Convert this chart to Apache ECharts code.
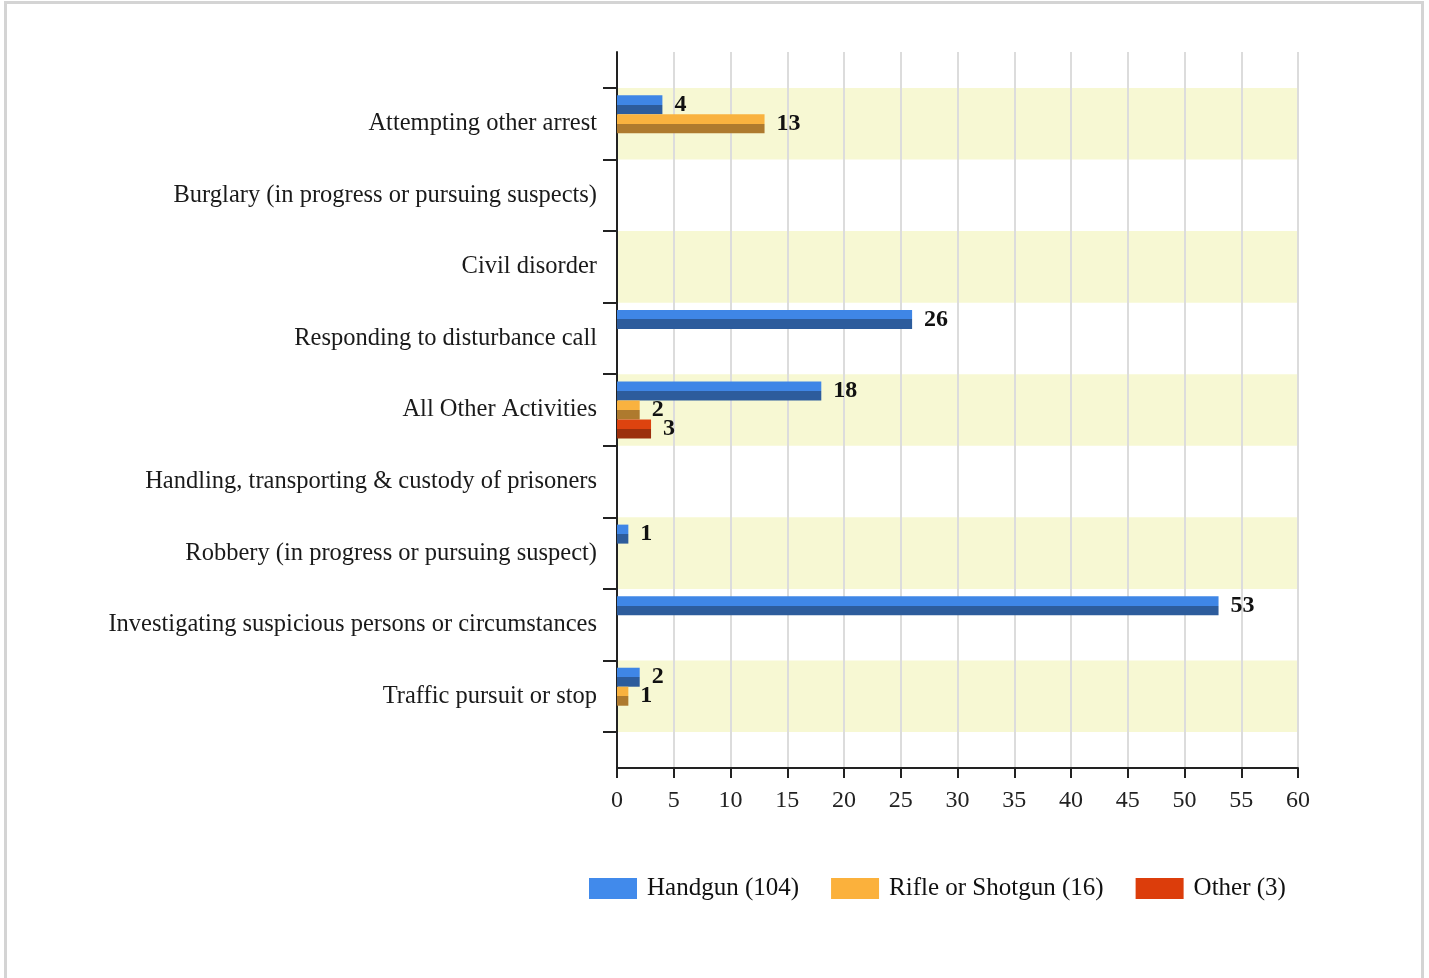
<!DOCTYPE html>
<html><head><meta charset="utf-8">
<script src="https://cdn.jsdelivr.net/npm/echarts@6/dist/echarts.min.js"></script>
<style>
html,body{margin:0;padding:0;background:#fff;}
#frame{position:absolute;left:4px;top:1px;width:1414px;height:990px;border:3px solid #d4d4d4;border-bottom:none;}
#chart{position:absolute;left:0;top:0;width:1429px;height:978px;}
</style></head>
<body><div id="frame"></div><div id="chart"></div>
<script>
const categories = [
  'Attempting other arrest',
  'Burglary (in progress or pursuing suspects)',
  'Civil disorder',
  'Responding to disturbance call',
  'All Other Activities',
  'Handling, transporting & custody of prisoners',
  'Robbery (in progress or pursuing suspect)',
  'Investigating suspicious persons or circumstances',
  'Traffic pursuit or stop'
];
const handgun = [4, 0, 0, 26, 18, 0, 1, 53, 2];
const rifle   = [13, 0, 0, 0, 2, 0, 0, 0, 1];
const other   = [0, 0, 0, 0, 3, 0, 0, 0, 0];
const seriesNames = ['Handgun (104)', 'Rifle or Shotgun (16)', 'Other (3)'];
const xTicks = {min: 0, max: 60, interval: 5};

const FONT = '"Liberation Serif", "Times New Roman", serif';
function grad(top, bottom){
  return new echarts.graphic.LinearGradient(0,0,0,1,[
    {offset:0,color:top},{offset:0.5,color:top},{offset:0.5,color:bottom},{offset:1,color:bottom}
  ]);
}
const colors = [
  {legend:'#418AEB', top:'#3F86E6', bottom:'#2D5C9C'},
  {legend:'#FBB13C', top:'#F9B23F', bottom:'#AE7A2E'},
  {legend:'#DC3D0B', top:'#DD430F', bottom:'#9B2F0C'}
];
function mk(name, data, c){
  return {
    name, type:'bar', xAxisIndex:1, yAxisIndex:1, data,
    barWidth:19, barGap:'0%',
    itemStyle:{color:grad(c.top,c.bottom), borderWidth:0},
    label:{show:true, position:'right', distance:12, fontFamily:FONT, fontSize:24, fontWeight:'bold', color:'#111',
      formatter:p=>p.value?String(p.value):''}
  };
}
const chart = echarts.init(document.getElementById('chart'));
chart.setOption({
  animation:false,
  color: colors.map(c=>c.legend),
  legend:{
    left:589, top:876, padding:0, itemWidth:48, itemHeight:21, itemGap:32,
    icon:'rect',
    textStyle:{fontFamily:FONT, fontSize:25, color:'#111', padding:[0,0,0,5]},
    data: seriesNames.map((n,i)=>({name:n, itemStyle:{color:colors[i].legend}}))
  },
  grid:[
    {left:617, right:131, top:52, bottom:210},
    {left:617, right:131, top:88, bottom:246}
  ],
  xAxis:[
    {gridIndex:0, type:'value', min:xTicks.min, max:xTicks.max, interval:xTicks.interval,
     axisLine:{show:true, lineStyle:{color:'#222', width:2}},
     axisTick:{show:true, length:10, lineStyle:{color:'#222', width:2}},
     axisLabel:{fontFamily:FONT, fontSize:24, color:'#222', margin:21},
     splitLine:{show:true, lineStyle:{color:'#dcdcdc', width:2}}},
    {gridIndex:1, type:'value', min:xTicks.min, max:xTicks.max, show:false, splitLine:{show:false}}
  ],
  yAxis:[
    {gridIndex:0, type:'value', min:0, max:1,
     axisLine:{show:true, onZero:false, lineStyle:{color:'#222', width:2}},
     axisTick:{show:false}, axisLabel:{show:false}, splitLine:{show:false}},
    {gridIndex:1, type:'category', inverse:true, data:categories,
     axisLine:{show:false}, 
     axisTick:{show:true, length:14, lineStyle:{color:'#222', width:2}},
     axisLabel:{fontFamily:FONT, fontSize:24.5, color:'#1a1a1a', margin:20, padding:[4,0,0,0]},
     splitArea:{show:true, areaStyle:{color:['#F7F8D3','rgba(255,255,255,0)']}}}
  ],
  series:[
    mk(seriesNames[0], handgun, colors[0]),
    mk(seriesNames[1], rifle, colors[1]),
    mk(seriesNames[2], other, colors[2])
  ]
});
</script></body></html>
